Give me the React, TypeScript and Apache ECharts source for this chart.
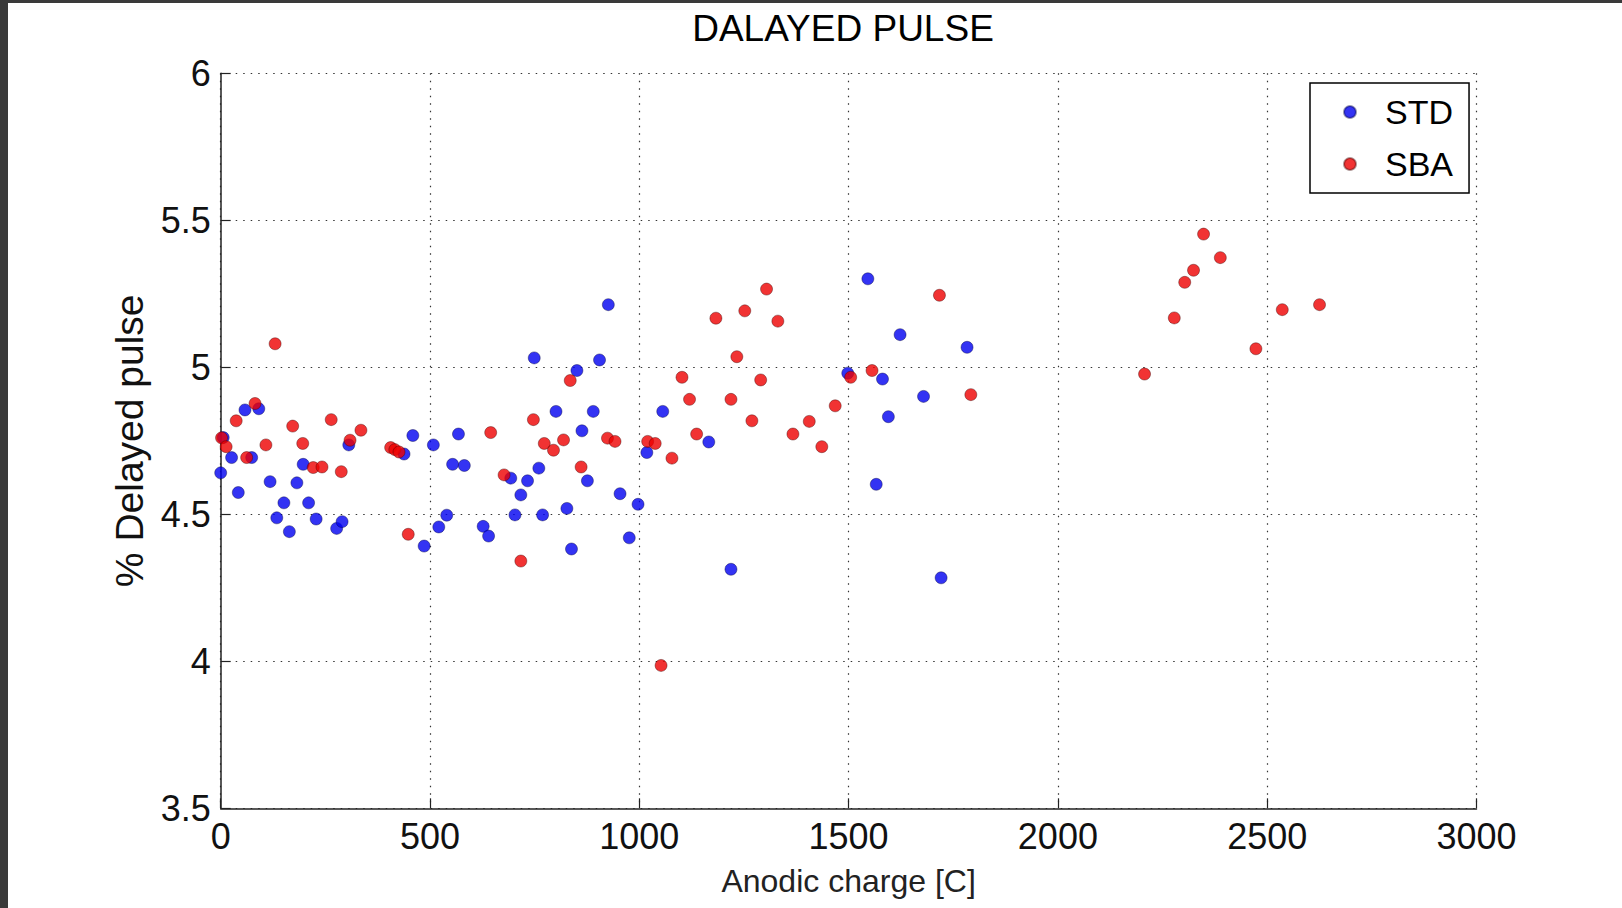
import React, { useEffect, useRef } from "react";
import * as echarts from "echarts";

const titleText = "DALAYED PULSE";
const xName = "Anodic charge [C]";
const yName = "% Delayed pulse";
const seriesNames = ["STD", "SBA"];

const stdCharge = [0, 6, 26, 42, 58, 74, 91, 118, 134, 151, 164, 182, 197, 210, 228, 277, 290, 306, 438, 459, 486, 508, 521, 540, 554, 568, 582, 627, 640, 693, 703, 717, 733, 749, 760, 769, 801, 827, 838, 851, 863, 876, 890, 905, 926, 954, 976, 997, 1018, 1056, 1166, 1219, 1498, 1546, 1566, 1581, 1595, 1623, 1679, 1721, 1783];
const stdPulse = [4.641, 4.761, 4.693, 4.574, 4.855, 4.693, 4.859, 4.611, 4.488, 4.539, 4.441, 4.607, 4.67, 4.539, 4.484, 4.452, 4.475, 4.736, 4.705, 4.768, 4.392, 4.736, 4.457, 4.497, 4.67, 4.773, 4.666, 4.459, 4.426, 4.623, 4.498, 4.566, 4.614, 5.032, 4.657, 4.498, 4.85, 4.52, 4.382, 4.989, 4.784, 4.614, 4.85, 5.025, 5.213, 4.57, 4.42, 4.534, 4.71, 4.85, 4.746, 4.313, 4.98, 5.301, 4.602, 4.96, 4.832, 5.111, 4.901, 4.284, 5.068];

const sbaCharge = [2, 13, 37, 62, 82, 108, 130, 172, 196, 221, 242, 264, 288, 309, 335, 406, 416, 426, 448, 645, 677, 717, 747, 773, 795, 819, 835, 861, 924, 942, 1020, 1038, 1052, 1078, 1102, 1120, 1137, 1183, 1219, 1233, 1252, 1269, 1290, 1304, 1331, 1367, 1406, 1436, 1468, 1505, 1556, 1717, 1792, 2207, 2278, 2303, 2324, 2348, 2388, 2473, 2536, 2625];
const sbaPulse = [4.76, 4.73, 4.818, 4.693, 4.877, 4.736, 5.08, 4.8, 4.741, 4.659, 4.661, 4.822, 4.645, 4.752, 4.786, 4.727, 4.72, 4.712, 4.432, 4.778, 4.634, 4.341, 4.822, 4.741, 4.718, 4.753, 4.955, 4.661, 4.759, 4.748, 4.748, 4.741, 3.986, 4.691, 4.966, 4.891, 4.773, 5.167, 4.891, 5.036, 5.192, 4.818, 4.957, 5.266, 5.157, 4.773, 4.816, 4.73, 4.869, 4.966, 4.989, 5.245, 4.907, 4.977, 5.168, 5.289, 5.33, 5.453, 5.373, 5.063, 5.196, 5.213];

const FONT = "'Liberation Sans', Arial, Helvetica, sans-serif";

export default function App() {
  const ref = useRef<HTMLDivElement>(null);
  useEffect(() => {
    document.body.style.margin = "0";
    if (!ref.current) return;
    const chart = echarts.init(ref.current, undefined, { renderer: "svg" });
    const zip = (xs: number[], ys: number[]) => xs.map((x, i) => [x, ys[i]]);
    chart.setOption({
      animation: false,
      backgroundColor: "#ffffff",
      title: {
        text: titleText,
        left: 843,
        top: 10,
        padding: 0,
        textAlign: "center",
        textStyle: { fontFamily: FONT, fontSize: 37, fontWeight: "normal", color: "#000" },
      },
      graphic: [
        { type: "rect", shape: { x: 0, y: 0, width: 8, height: 908 }, style: { fill: "#3a3a3a" }, z: 100 },
        { type: "rect", shape: { x: 0, y: 0, width: 1622, height: 3 }, style: { fill: "#3a3a3a" }, z: 100 },
      ],
      legend: {
        left: 1310,
        top: 83,
        orient: "vertical",
        data: seriesNames,
        icon: "circle",
        itemWidth: 60,
        itemHeight: 12,
        itemGap: 18,
        padding: [12, 16, 12, 33],
        borderColor: "#000",
        borderWidth: 1.5,
        backgroundColor: "#fff",
        textStyle: { fontFamily: FONT, fontSize: 34, color: "#000" },
      },
      grid: { left: 220.7, right: 145.5, top: 73.3, bottom: 99.7, containLabel: false },
      xAxis: {
        type: "value",
        min: 0,
        max: 3000,
        interval: 500,
        name: xName,
        nameLocation: "middle",
        nameGap: 57,
        nameTextStyle: { fontFamily: FONT, fontSize: 32, color: "#222" },
        axisLine: { show: true, onZero: false, lineStyle: { color: "#222", width: 1.5 } },
        axisTick: { show: true, inside: true, length: 10, lineStyle: { color: "#222", width: 1.2 } },
        axisLabel: {
          fontFamily: FONT,
          fontSize: 36,
          color: "#111",
          margin: 10,
          showMinLabel: true,
          showMaxLabel: true,
          formatter: (v: number) => String(v),
        },
        splitLine: { show: true, lineStyle: { color: "#333", width: 1.2, type: [1.5, 6] } },
      },
      yAxis: {
        type: "value",
        min: 3.5,
        max: 6,
        interval: 0.5,
        name: yName,
        nameLocation: "middle",
        nameGap: 72,
        nameTextStyle: { fontFamily: FONT, fontSize: 39, color: "#111" },
        axisLine: { show: true, onZero: false, lineStyle: { color: "#222", width: 1.5 } },
        axisTick: { show: true, inside: true, length: 10, lineStyle: { color: "#222", width: 1.2 } },
        axisLabel: {
          fontFamily: FONT,
          fontSize: 36,
          color: "#111",
          margin: 10,
          showMinLabel: true,
          showMaxLabel: true,
          formatter: (v: number) => String(v),
        },
        splitLine: { show: true, lineStyle: { color: "#333", width: 1.2, type: [1.5, 6] } },
      },
      series: [
        {
          name: seriesNames[0],
          type: "scatter",
          data: zip(stdCharge, stdPulse),
          symbol: "circle",
          symbolSize: 12,
          itemStyle: { color: "#0000f0", borderColor: "rgba(0,0,60,0.5)", borderWidth: 1 },
        },
        {
          name: seriesNames[1],
          type: "scatter",
          data: zip(sbaCharge, sbaPulse),
          symbol: "circle",
          symbolSize: 12,
          itemStyle: { color: "#ee0000", borderColor: "rgba(60,0,0,0.5)", borderWidth: 1 },
        },
      ],
    });
    return () => chart.dispose();
  }, []);
  return <div ref={ref} style={{ width: 1622, height: 908 }} />;
}
